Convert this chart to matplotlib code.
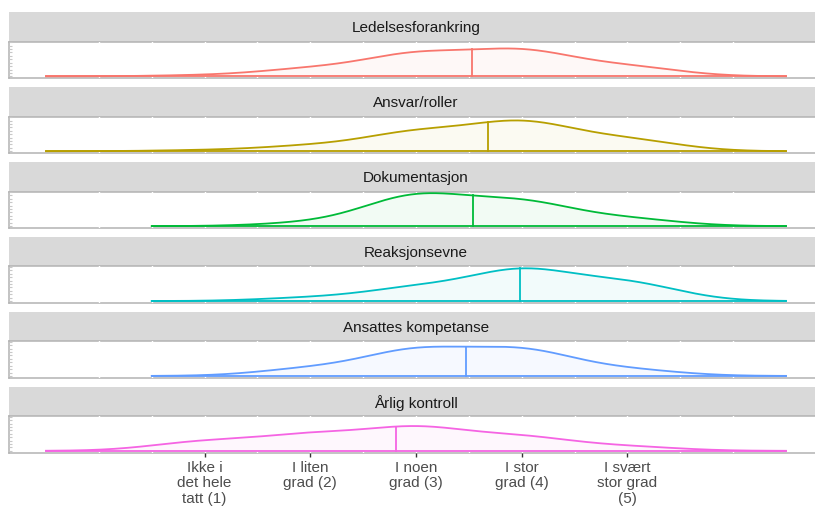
import numpy as np
import matplotlib.pyplot as plt

plt.rcParams['font.family'] = ['Liberation Sans', 'DejaVu Sans']

# Facet titles (top to bottom)
categories = [
    "Ledelsesforankring",
    "Ansvar/roller",
    "Dokumentasjon",
    "Reaksjonsevne",
    "Ansattes kompetanse",
    "Årlig kontroll",
]

# Answer levels 1..5 and estimated answer counts per facet
levels = [1, 2, 3, 4, 5]
counts_ledelse = [1, 7, 21, 24, 9]
counts_ansvar = [1, 5, 18, 28, 11]
counts_dokumentasjon = [0, 3, 30, 23, 7]
counts_reaksjon = [0, 3, 12, 29, 17]
counts_kompetanse = [0, 7, 25, 25, 6]
counts_kontroll = [9, 15, 22, 13, 4]

all_counts = [
    counts_ledelse,
    counts_ansvar,
    counts_dokumentasjon,
    counts_reaksjon,
    counts_kompetanse,
    counts_kontroll,
]

tick_labels = [
    "Ikke i\ndet hele\ntatt (1)",
    "I liten\ngrad (2)",
    "I noen\ngrad (3)",
    "I stor\ngrad (4)",
    "I svært\nstor grad\n(5)",
]

colors = ["#F8766D", "#B79F00", "#00BA38", "#00BFC4", "#619CFF", "#F564E3"]
BW = 0.5


def kde(data, x, bw=BW):
    z = (np.asarray(x)[..., None] - data) / bw
    return np.exp(-0.5 * z ** 2).sum(-1) / (len(data) * bw * np.sqrt(2 * np.pi))


def density(counts, bw=BW, n=512):
    # gaussian kernel density like geom_density(bw = 0.5)
    data = np.repeat(levels, counts).astype(float)
    grid = np.linspace(data.min() - 3 * bw, data.max() + 3 * bw, n)
    mean = data.mean()
    return grid, kde(data, grid), mean, float(kde(data, mean))


curves = [density(c) for c in all_counts]
ymax = max(c[1].max() for c in curves)

W, H = 815, 509
fig = plt.figure(figsize=(W / 100, H / 100), dpi=100)

left_px = 9
right_px = 823  # panels run a little past the right edge of the image
strip_h = 29.7
panel_h = 36.3
period = 74.9
top0 = 12

x_left, x_right = -0.85, 6.85

grid_x = np.arange(0, 6.01, 0.5)
border = "#B3B3B3"

for i, (name, (gx, gy, mean, mean_y)) in enumerate(zip(categories, curves)):
    top = top0 + period * i
    col = colors[i]

    # strip
    sax = fig.add_axes([left_px / W, 1 - (top + strip_h) / H,
                        (right_px - left_px) / W, strip_h / H])
    sax.set_facecolor("#D9D9D9")
    sax.set_xticks([])
    sax.set_yticks([])
    for s in sax.spines.values():
        s.set_visible(False)
    sax.text(0.5, 0.45, name, ha="center", va="center",
             fontsize=11, color="#1A1A1A", transform=sax.transAxes)

    # panel
    ax = fig.add_axes([left_px / W, 1 - (top + strip_h + panel_h) / H,
                       (right_px - left_px) / W, panel_h / H])
    ax.set_xlim(x_left, x_right)
    ax.set_ylim(-0.05 * ymax, 1.05 * ymax)

    for gxl in grid_x:
        ax.axvline(gxl, color="white", lw=1.0, zorder=1.5)

    ax.fill_between(gx, 0, gy, color=col, alpha=0.05, lw=0, zorder=2)
    ax.plot(gx, gy, color=col, lw=1.3, zorder=3)
    ax.plot([gx[0], gx[-1]], [0, 0], color=col, lw=1.3, zorder=3)
    ax.plot([mean, mean], [0, mean_y], color=col, lw=1.3, zorder=3)

    for side in ["top", "bottom", "left"]:
        ax.spines[side].set_color(border)
        ax.spines[side].set_linewidth(1.1)
        ax.spines[side].set_zorder(1)
    ax.spines["right"].set_visible(False)

    ax.set_yticks(np.arange(0, ymax * 1.05, 0.045))
    ax.tick_params(axis="y", direction="in", length=2, width=0.8,
                   color="#C8C8C8", labelleft=False)

    if i == len(categories) - 1:
        ax.set_xticks(levels)
        ax.set_xticklabels(tick_labels, fontsize=11, color="#4D4D4D",
                           linespacing=1.15)
        ax.tick_params(axis="x", length=3, width=1.0, color="#333333", pad=3)
    else:
        ax.set_xticks([])

fig.savefig("out.png", dpi=100)
